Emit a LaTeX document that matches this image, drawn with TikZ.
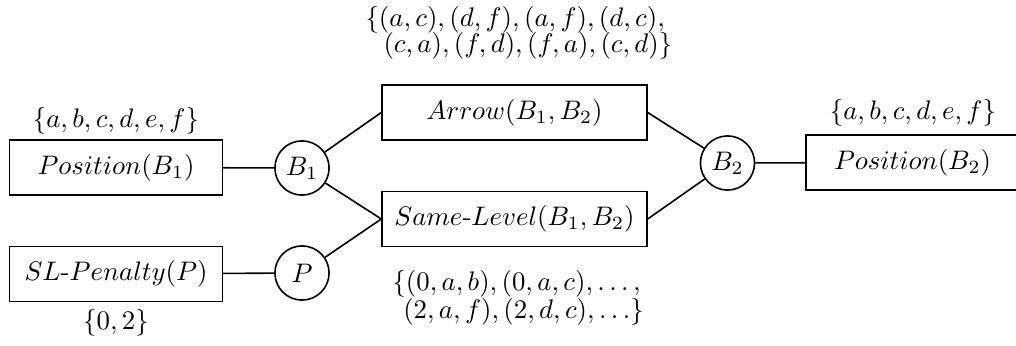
\documentclass[tikz,border=0pt]{standalone}
\begin{document}
\begin{tikzpicture}[x=0.0131cm,y=-0.0131cm,
  box/.style={draw,line width=0.6pt,minimum height=0.72cm,inner sep=0pt},
  var/.style={draw,circle,line width=0.6pt,minimum size=0.71cm,inner sep=0pt},
  lbl/.style={inner sep=0pt},
  conn/.style={line width=0.6pt}]
\useasboundingbox (0,0) rectangle (1016,346);
\node[box,minimum width=2.79cm] (pos1) at (116,167.5) {$Position(B_1)$};
\node[box,minimum width=2.79cm] (slp) at (116,274) {$SL\mbox{-}Penalty(P)$};
\node[var] (b1) at (302,168) {$B_1$};
\node[var] (p) at (302,273) {$P$};
\node[box,minimum width=3.47cm] (arrow) at (514.5,112.5) {$Arrow(B_1,B_2)$};
\node[box,minimum width=3.47cm] (same) at (514.5,219) {$Same\mbox{-}Level(B_1,B_2)$};
\node[var] (b2) at (727.5,163) {$B_2$};
\node[box,minimum width=2.79cm] (pos2) at (912.5,162.5) {$Position(B_2)$};
\node[lbl] (l1) at (116,121) {$\{a,b,c,d,e,f\}$};
\node[lbl] (l2) at (116,323) {$\{0,2\}$};
\node[lbl] (l3) at (913,113) {$\{a,b,c,d,e,f\}$};
\node[lbl,anchor=north west,align=left] (top) at (365,6)
  {$\{(a,c),(d,f),(a,f),(d,c),$\\[-2.3pt]\hspace*{6.7pt}$(c,a),(f,d),(f,a),(c,d)\}$};
\node[lbl,anchor=north west,align=left] (bot) at (392,270)
  {$\{(0,a,b),(0,a,c),\ldots,$\\[-1.6pt]\hspace*{4pt}$(2,a,f),(2,d,c),\ldots\}$};
\draw[conn] (pos1) -- (b1);
\draw[conn] (slp) -- (p);
\draw[conn] (b1) -- (arrow.west);
\draw[conn] (b1) -- (same.west);
\draw[conn] (p) -- (same.west);
\draw[conn] (arrow.east) -- (b2);
\draw[conn] (same.east) -- (b2);
\draw[conn] (b2) -- (pos2);
\end{tikzpicture}
\end{document}
